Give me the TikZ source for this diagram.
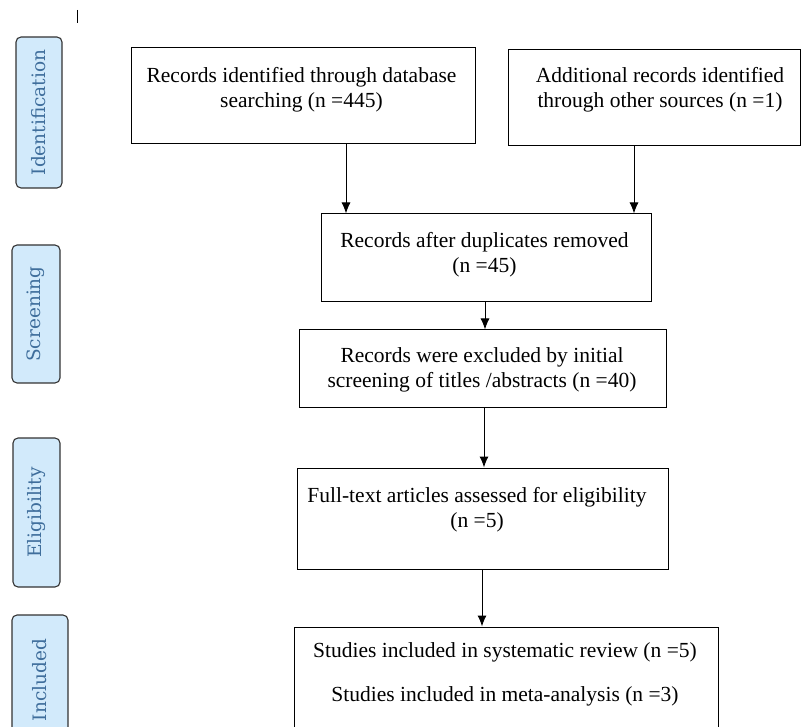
\documentclass[tikz,border=0pt]{standalone}
\usepackage{fontspec}
\setmainfont{Liberation Serif}
\newfontfamily\stagefont{DejaVu Serif}
\usetikzlibrary{arrows.meta}
\definecolor{stagefill}{HTML}{D2EAFB}
\definecolor{stagetext}{HTML}{3F6E9C}
\tikzset{
 box/.style={draw,line width=1pt,inner sep=0pt},
 txt/.style={align=center,inner sep=0pt,font=\fontsize{21.5}{25}\selectfont},
 stage/.style={draw=black!80,line width=1.1pt,fill=stagefill,rounded corners=5pt,rotate=90,
   inner sep=0pt,text=stagetext,font=\stagefont\fontsize{18.5}{20}\selectfont},
 arr/.style={-{Latex[length=11pt,width=9pt]},line width=1pt}
}
\begin{document}
\begin{tikzpicture}[x=1pt,y=-1pt]
 \useasboundingbox (0,0) rectangle (801,727);
 \draw [line width=1pt](77,10)--(77,23);
 % stages on the left
 \node[stage,minimum width=151,minimum height=46] (sid) at (39,112.5) {Identification};
 \node[stage,minimum width=138,minimum height=48] (sscr) at (36,314) {Screening};
 \node[stage,minimum width=149,minimum height=47] (selig) at (36.5,512.5) {Eligibility};
 \node[stage,minimum width=130,minimum height=56] (sincl) at (40,680) {Included};
 % boxes
 \node[box,minimum width=344,minimum height=96] (rid) at (303,96) {};
 \node[txt] (tid) at (301.5,89.5) {Records identified through database\\searching (n =445)};
 \node[box,minimum width=292,minimum height=96] (radd) at (654,98) {};
 \node[txt] (tadd) at (660,90) {Additional records identified\\through other sources (n =1)};
 \node[box,minimum width=330,minimum height=88] (dup) at (486,258) {};
 \node[txt] (tdup) at (484.5,254.5) {Records after duplicates removed\\(n =45)};
 \node[box,minimum width=367,minimum height=78] (excl) at (482.5,369) {};
 \node[txt] (texcl) at (482,370) {Records were excluded by initial\\screening of titles /abstracts (n =40)};
 \node[box,minimum width=371,minimum height=101] (full) at (482.5,518.5) {};
 \node[txt] (tfull) at (477,510) {Full-text articles assessed for eligibility\\(n =5)};
 \node[box,minimum width=424,minimum height=113] (incl) at (506,683.5) {};
 \node[txt] (tincl) at (505,674) {Studies included in systematic review (n =5)\\[19pt]Studies included in meta-analysis (n =3)};
 % arrows
 \draw[arr] ([xshift=43]rid.south) -- ([xshift=43]rid.south |- dup.north);
 \draw[arr] ([xshift=-20]radd.south) -- ([xshift=-20]radd.south |- dup.north);
 \draw[arr] ([xshift=-1]dup.south) -- ([xshift=-1]dup.south |- excl.north);
 \draw[arr] ([xshift=1.5]excl.south) -- ([xshift=1.5]excl.south |- full.north);
 \draw[arr] ([xshift=-0.5]full.south) -- ([xshift=-0.5]full.south |- incl.north);
\end{tikzpicture}
\end{document}
